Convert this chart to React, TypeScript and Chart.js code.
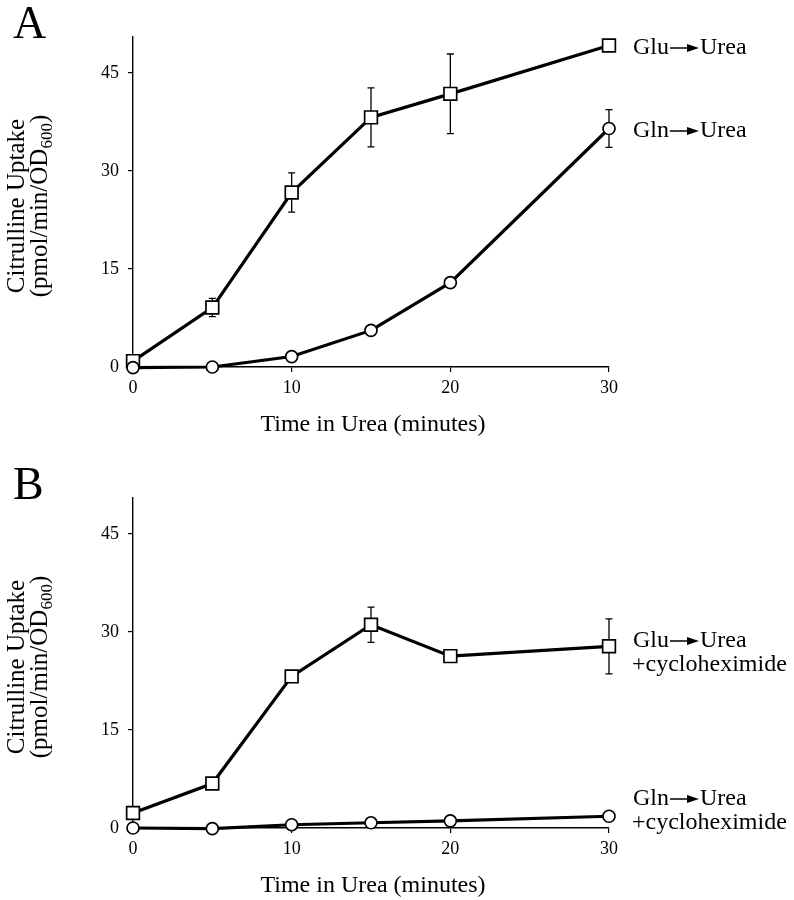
import React, { useEffect, useRef } from "react";
import { Chart, registerables } from "chart.js";

Chart.register(...registerables);

// ---- data ----
const times = [0, 5, 10, 15, 20, 30];
const xTickValues = [0, 10, 20, 30];
const yTickValues = [0, 15, 30, 45];
const yMax = 50.5;

// Panel A
const gluUreaA = [0.9, 9.1, 26.7, 38.2, 41.8, 49.2];
const gluUreaAErr = [0, 1.4, 3.0, 4.5, 6.1, 0];
const glnUreaA = [-0.1, 0, 1.6, 5.6, 12.9, 36.5];
const glnUreaAErr = [0, 0, 0, 0, 0, 2.9];

// Panel B
const gluCycloB = [2.3, 6.8, 23.2, 31.1, 26.3, 27.8];
const gluCycloBErr = [0, 0, 0, 2.7, 0, 4.2];
const glnCycloB = [0, -0.1, 0.5, 0.8, 1.1, 1.8];
const glnCycloBErr = [0, 0, 0, 0, 0, 0];

const panelLetters = ["A", "B"];
const gluLabelsA = ["Glu", "Urea"];
const glnLabelsA = ["Gln", "Urea"];
const cycloLabel = "+cycloheximide";
const xTitle = "Time in Urea (minutes)";
const yTitle1 = "Citrulline Uptake";
const yTitle2a = "(pmol/min/OD";
const yTitle2sub = "600";
const yTitle2b = ")";

const SERIF = '"Liberation Serif", "Times New Roman", Times, serif';

type LabelSpec = { left: string; right: string; extra?: string; y: number };

type PanelSpec = {
  letter: string;
  glu: number[];
  gluErr: number[];
  gln: number[];
  glnErr: number[];
  labels: LabelSpec[];
};

const panels: PanelSpec[] = [
  {
    letter: panelLetters[0],
    glu: gluUreaA,
    gluErr: gluUreaAErr,
    gln: glnUreaA,
    glnErr: glnUreaAErr,
    labels: [
      { left: gluLabelsA[0], right: gluLabelsA[1], y: 54 },
      { left: glnLabelsA[0], right: glnLabelsA[1], y: 137 },
    ],
  },
  {
    letter: panelLetters[1],
    glu: gluCycloB,
    gluErr: gluCycloBErr,
    gln: glnCycloB,
    glnErr: glnCycloBErr,
    labels: [
      { left: gluLabelsA[0], right: gluLabelsA[1], extra: cycloLabel, y: 186 },
      { left: glnLabelsA[0], right: glnLabelsA[1], extra: cycloLabel, y: 344 },
    ],
  },
];

function drawArrowLabel(ctx: CanvasRenderingContext2D, x: number, y: number, left: string, right: string) {
  ctx.fillText(left, x, y);
  const wl = ctx.measureText(left).width;
  const ax0 = x + wl + 1;
  const ax1 = ax0 + 29;
  const ay = y - 6;
  ctx.beginPath();
  ctx.lineWidth = 1.5;
  ctx.moveTo(ax0, ay);
  ctx.lineTo(ax1 - 10, ay);
  ctx.stroke();
  ctx.beginPath();
  ctx.moveTo(ax1 - 12, ay - 4);
  ctx.lineTo(ax1, ay);
  ctx.lineTo(ax1 - 12, ay + 4);
  ctx.closePath();
  ctx.fill();
  ctx.fillText(right, ax1 + 1, y);
}

function makeAnnotPlugin(panel: PanelSpec) {
  const errSets = [panel.glu, panel.gln];
  const errVals = [panel.gluErr, panel.glnErr];
  return {
    id: "annot" + panel.letter,
    beforeDatasetsDraw(chart: any) {
      const ctx: CanvasRenderingContext2D = chart.ctx;
      const xs = chart.scales.x;
      const ys = chart.scales.y;
      ctx.save();
      ctx.strokeStyle = "#000";
      ctx.lineWidth = 1.3;
      errSets.forEach((vals, si) => {
        vals.forEach((v, i) => {
          const e = errVals[si][i];
          if (!e) return;
          const px = xs.getPixelForValue(times[i]);
          const yt = ys.getPixelForValue(v + e);
          const yb = ys.getPixelForValue(v - e);
          ctx.beginPath();
          ctx.moveTo(px, yt);
          ctx.lineTo(px, yb);
          ctx.moveTo(px - 3.5, yt);
          ctx.lineTo(px + 3.5, yt);
          ctx.moveTo(px - 3.5, yb);
          ctx.lineTo(px + 3.5, yb);
          ctx.stroke();
        });
      });
      ctx.restore();
    },
    afterDraw(chart: any) {
      const ctx: CanvasRenderingContext2D = chart.ctx;
      const area = chart.chartArea;
      ctx.save();
      ctx.fillStyle = "#000";
      ctx.strokeStyle = "#000";
      // panel letter
      ctx.font = `46px ${SERIF}`;
      ctx.textAlign = "left";
      ctx.textBaseline = "alphabetic";
      ctx.fillText(panel.letter, 13, 38);
      // x title
      ctx.font = `24px ${SERIF}`;
      ctx.textAlign = "center";
      ctx.fillText(xTitle, (area.left + area.right) / 2 + 2, 431);
      // y title (rotated)
      const cy = (area.top + area.bottom) / 2 + 4;
      ctx.font = `25px ${SERIF}`;
      ctx.save();
      ctx.translate(24, cy);
      ctx.rotate(-Math.PI / 2);
      ctx.textAlign = "center";
      ctx.fillText(yTitle1, 0, 0);
      ctx.restore();
      ctx.save();
      ctx.translate(47, cy);
      ctx.rotate(-Math.PI / 2);
      ctx.textAlign = "left";
      ctx.font = `25px ${SERIF}`;
      const wa = ctx.measureText(yTitle2a).width;
      const wb = ctx.measureText(yTitle2b).width;
      ctx.font = `17px ${SERIF}`;
      const ws = ctx.measureText(yTitle2sub).width;
      const total = wa + ws + wb;
      let tx = -total / 2;
      ctx.font = `25px ${SERIF}`;
      ctx.fillText(yTitle2a, tx, 0);
      tx += wa;
      ctx.font = `17px ${SERIF}`;
      ctx.fillText(yTitle2sub, tx, 5);
      tx += ws;
      ctx.font = `25px ${SERIF}`;
      ctx.fillText(yTitle2b, tx, 0);
      ctx.restore();
      // series labels
      ctx.font = `24px ${SERIF}`;
      ctx.textAlign = "left";
      const lx = area.right + 24;
      panel.labels.forEach((l) => {
        drawArrowLabel(ctx, lx, l.y, l.left, l.right);
        if (l.extra) ctx.fillText(l.extra, lx - 1, l.y + 24);
      });
      ctx.restore();
    },
  };
}

function PanelChart({ panel, top }: { panel: PanelSpec; top: number }) {
  const ref = useRef<HTMLCanvasElement>(null);
  useEffect(() => {
    const canvas = ref.current;
    if (!canvas) return;
    const tickFont = { family: SERIF, size: 18 };
    const grid = {
      display: true,
      drawOnChartArea: false,
      drawTicks: true,
      tickLength: 5,
      color: "#000",
      lineWidth: 1.2,
    };
    const border = { display: true, color: "#000", width: 1.4 };
    const chart = new Chart(canvas, {
      type: "line",
      data: {
        datasets: [
          {
            label: "Gln",
            data: times.map((t, i) => ({ x: t, y: panel.gln[i] })),
            borderColor: "#000",
            borderWidth: 3.2,
            pointStyle: "circle",
            pointRadius: 6,
            pointBorderWidth: 1.7,
            pointBackgroundColor: "#fff",
            pointBorderColor: "#000",
            tension: 0,
            clip: false,
          },
          {
            label: "Glu",
            data: times.map((t, i) => ({ x: t, y: panel.glu[i] })),
            borderColor: "#000",
            borderWidth: 3.2,
            pointStyle: "rect",
            pointRadius: 9,
            pointBorderWidth: 1.7,
            pointBackgroundColor: "#fff",
            pointBorderColor: "#000",
            tension: 0,
            clip: false,
          },
        ],
      },
      options: {
        responsive: false,
        animation: false,
        devicePixelRatio: 1,
        layout: { padding: { top: 37, right: 185, left: 0, bottom: 0 } },
        plugins: { legend: { display: false }, tooltip: { enabled: false } },
        scales: {
          x: {
            type: "linear",
            min: 0,
            max: 30,
            afterFit: (s: any) => {
              s.height = 83;
            },
            afterBuildTicks: (s: any) => {
              s.ticks = xTickValues.map((v) => ({ value: v }));
            },
            ticks: { font: tickFont, color: "#000", padding: 5, maxRotation: 0, autoSkip: false },
            grid,
            border,
          },
          y: {
            type: "linear",
            min: 0,
            max: yMax,
            afterFit: (s: any) => {
              s.width = 133;
            },
            afterBuildTicks: (s: any) => {
              s.ticks = yTickValues.map((v) => ({ value: v }));
            },
            ticks: { font: tickFont, color: "#000", padding: 9, autoSkip: false },
            grid,
            border,
          },
        },
      } as any,
      plugins: [makeAnnotPlugin(panel)],
    });
    return () => chart.destroy();
  }, [panel]);
  return (
    <canvas
      ref={ref}
      width={794}
      height={450}
      style={{ position: "absolute", left: 0, top, width: 794, height: 450, display: "block" }}
    />
  );
}

export default function App() {
  return (
    <div style={{ position: "absolute", left: 0, top: 0, width: 794, height: 900, background: "#fff" }}>
      <PanelChart panel={panels[0]} top={0} />
      <PanelChart panel={panels[1]} top={461} />
    </div>
  );
}
